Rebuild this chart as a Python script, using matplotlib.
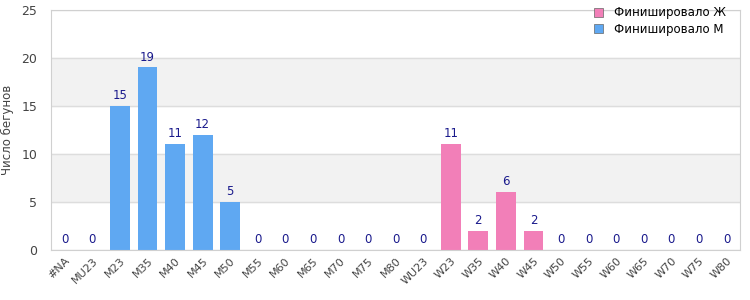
import matplotlib.pyplot as plt
import numpy as np

categories = ['#NA', 'MU23', 'M23', 'M35', 'M40', 'M45', 'M50', 'M55', 'M60', 'M65',
              'M70', 'M75', 'M80', 'WU23', 'W23', 'W35', 'W40', 'W45', 'W50', 'W55',
              'W60', 'W65', 'W70', 'W75', 'W80']
men = [0, 0, 15, 19, 11, 12, 5, 0, 0, 0, 0, 0, 0, 0, 0, 0, 0, 0, 0, 0, 0, 0, 0, 0, 0]
women = [0, 0, 0, 0, 0, 0, 0, 0, 0, 0, 0, 0, 0, 0, 11, 2, 6, 2, 0, 0, 0, 0, 0, 0, 0]

blue = '#5fa8f2'
pink = '#f27fb8'

fig = plt.figure(figsize=(7.5, 3), dpi=100)
ax = fig.add_axes([0.068, 0.167, 0.919, 0.8])

x = np.arange(len(categories))
ax.set_xlim(-0.5, len(categories) - 0.5)
ax.set_ylim(0, 25)

# alternating bands
for lo in (5, 15):
    ax.axhspan(lo, lo + 5, color='#f2f2f2', zorder=0)
ax.set_yticks([0, 5, 10, 15, 20, 25])
ax.yaxis.grid(True, color='#dddddd', linewidth=1, zorder=1)
ax.set_axisbelow(True)

ax.bar(x, men, width=0.72, color=blue, zorder=2, label='Финишировало М')
ax.bar(x, women, width=0.72, color=pink, zorder=2, label='Финишировало Ж')

for i in x:
    v = men[i] + women[i]
    ax.text(i, v + 0.4, str(v), ha='center', va='bottom', fontsize=8.5, color='#1a1a8c')

ax.set_xticks(x)
ax.set_xticklabels(categories, rotation=45, ha='right', rotation_mode='anchor',
                   fontsize=8, color='#444444')
ax.tick_params(axis='x', length=0, pad=4)
ax.tick_params(axis='y', length=0, labelsize=9, labelcolor='#444444', pad=10)
ax.set_ylabel('Число бегунов', fontsize=8.5, color='#444444', labelpad=5)

for s in ax.spines.values():
    s.set_color('#d0d0d0')

handles, labels = ax.get_legend_handles_labels()
leg = fig.legend(handles[::-1], labels[::-1], loc='upper right', bbox_to_anchor=(0.982, 1.015),
                 fontsize=8.5, frameon=False, handlelength=0.8, handleheight=0.8,
                 labelspacing=0.3, handletextpad=0.9)
for h in leg.legend_handles:
    h.set_edgecolor('#666666')
    h.set_linewidth(0.5)

fig.savefig('out.png', dpi=100)
